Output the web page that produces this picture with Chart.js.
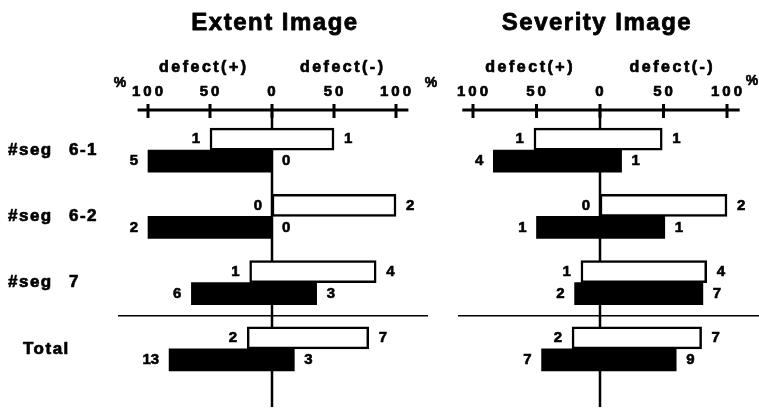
<!DOCTYPE html>
<html>
<head>
<meta charset="utf-8">
<script src="https://cdn.jsdelivr.net/npm/chart.js@4.4.0/dist/chart.umd.min.js"></script>
<style>
  body { margin: 0; background: #fff; }
  #wrap { position: relative; width: 759px; height: 411px; }
  canvas { position: absolute; top: 0; }
</style>
</head>
<body>
<div id="wrap">
  <canvas id="extentChart" width="440" height="411" style="left:0"></canvas>
  <canvas id="severityChart" width="319" height="411" style="left:440px"></canvas>
</div>
<script>
const segments = ["#seg 6-1", "#seg 6-2", "#seg 7", "Total"];
const xTicks = [-100, -50, 0, 50, 100];
const xTickLabels = ["100", "50", "0", "50", "100"];

// Extent image (% , defect(+) to the left, defect(-) to the right)
const extentWhite = [[-50, 50], [0, 100], [-18, 84], [-20, 78]];
const extentBlack = [[-100, 0], [-100, 0], [-65, 36], [-83, 18]];
const extentWhiteN = [[1, 1], [0, 2], [1, 4], [2, 7]];
const extentBlackN = [[5, 0], [2, 0], [6, 3], [13, 3]];

// Severity image
const severityWhite = [[-52, 49], [0, 100], [-15, 84], [-22, 80]];
const severityBlack = [[-84, 17], [-50, 51], [-20, 81], [-46, 60]];
const severityWhiteN = [[1, 1], [0, 2], [1, 4], [2, 7]];
const severityBlackN = [[4, 1], [1, 1], [2, 7], [7, 9]];

const FONT = '"Liberation Sans", Arial, Helvetica, sans-serif';

// heavy text: fill plus a thin stroke
function heavyText(ctx, s, x, y, w) {
  ctx.lineWidth = w;
  ctx.fillText(s, x, y);
  ctx.strokeText(s, x, y);
}

function panelPlugin(o) {
  return {
    id: 'panel',
    beforeDatasetsDraw(chart) {
      const ctx = chart.ctx, xs = chart.scales.x, ys = chart.scales.y, area = chart.chartArea;
      const axisY = area.top - 7;
      const zero = xs.getPixelForValue(0);
      ctx.save();
      ctx.fillStyle = '#000';
      ctx.strokeStyle = '#000';
      ctx.lineJoin = 'round';
      ctx.textBaseline = 'middle';

      // title
      ctx.font = 'bold 24px ' + FONT;
      ctx.letterSpacing = '1.5px';
      ctx.textAlign = 'center';
      heavyText(ctx, o.title, zero + o.titleDx, 23, 0.8);

      // defect labels
      ctx.font = 'bold 16px ' + FONT;
      ctx.letterSpacing = '2.5px';
      heavyText(ctx, 'defect(+)', xs.getPixelForValue(-55), axisY - 42, 0.7);
      heavyText(ctx, 'defect(-)', xs.getPixelForValue(57), axisY - 42, 0.7);

      // tick labels
      ctx.font = 'bold 15px ' + FONT;
      ctx.letterSpacing = '3px';
      xTicks.forEach((v, i) => {
        heavyText(ctx, xTickLabels[i], xs.getPixelForValue(v) + 1, axisY - 18, 0.7);
      });
      ctx.letterSpacing = '0px';
      ctx.font = 'bold 14px ' + FONT;
      o.percents.forEach(p => heavyText(ctx, '%', p[0], p[1], 0.6));

      // axis line + ticks
      ctx.lineWidth = 3;
      ctx.beginPath();
      ctx.moveTo(area.left + 2, axisY);
      ctx.lineTo(area.right, axisY);
      xTicks.forEach(v => {
        const px = xs.getPixelForValue(v);
        ctx.moveTo(px, axisY - 6);
        ctx.lineTo(px, axisY + 8);
      });
      ctx.stroke();

      // centre line
      ctx.lineWidth = 2.5;
      ctx.beginPath();
      ctx.moveTo(zero, axisY);
      ctx.lineTo(zero, area.bottom + 25);
      ctx.stroke();

      // separator before Total
      const sepY = (ys.getPixelForValue(2) + ys.getPixelForValue(3)) / 2;
      ctx.lineWidth = 1.5;
      ctx.beginPath();
      ctx.moveTo(o.sep[0], sepY);
      ctx.lineTo(o.sep[1], sepY);
      ctx.stroke();

      // segment names
      if (o.names) {
        ctx.font = 'bold 17px ' + FONT;
        ctx.letterSpacing = '1.5px';
        ctx.wordSpacing = '10px';
        ctx.textAlign = 'left';
        segments.forEach((s, i) => {
          const x0 = s === 'Total' ? 23 : 8;
          heavyText(ctx, s, x0, ys.getPixelForValue(i), 0.7);
        });
      }
      ctx.restore();
    },
    afterDatasetsDraw(chart) {
      const ctx = chart.ctx;
      ctx.save();
      ctx.fillStyle = '#000';
      ctx.strokeStyle = '#000';
      ctx.font = 'bold 15px ' + FONT;
      ctx.textBaseline = 'middle';
      [o.whiteN, o.blackN].forEach((counts, d) => {
        chart.getDatasetMeta(d).data.forEach((bar, i) => {
          const l = Math.min(bar.x, bar.base), r = Math.max(bar.x, bar.base);
          ctx.textAlign = 'right';
          heavyText(ctx, String(counts[i][0]), l - 10, bar.y, 0.6);
          ctx.textAlign = 'left';
          heavyText(ctx, String(counts[i][1]), r + 10, bar.y, 0.6);
        });
      });
      ctx.restore();
    }
  };
}

function makePanel(id, white, black, opts, padding) {
  new Chart(document.getElementById(id), {
    type: 'bar',
    data: {
      labels: segments,
      datasets: [
        { data: white, backgroundColor: '#fff', borderColor: '#000', borderWidth: 2.5, borderSkipped: false },
        { data: black, backgroundColor: '#000', borderWidth: 0 }
      ]
    },
    options: {
      indexAxis: 'y',
      responsive: false,
      animation: false,
      barThickness: 22,
      layout: { padding: padding },
      scales: {
        x: { display: false, min: -110, max: 110 },
        y: { display: false }
      },
      plugins: { legend: { display: false }, tooltip: { enabled: false } }
    },
    plugins: [panelPlugin(opts)]
  });
}

makePanel('extentChart', extentWhite, extentBlack, {
  title: 'Extent Image', titleDx: 3, names: true,
  whiteN: extentWhiteN, blackN: extentBlackN,
  percents: [[120, 83], [431, 83]], sep: [118, 428]
}, { left: 135.6, right: 31.6, top: 117, bottom: 29 });

makePanel('severityChart', severityWhite, severityBlack, {
  title: 'Severity Image', titleDx: -3, names: false,
  whiteN: severityWhiteN, blackN: severityBlackN,
  percents: [[312, 81]], sep: [18, 319]
}, { left: 20.3, right: 19.3, top: 117, bottom: 29 });
</script>
</body>
</html>
